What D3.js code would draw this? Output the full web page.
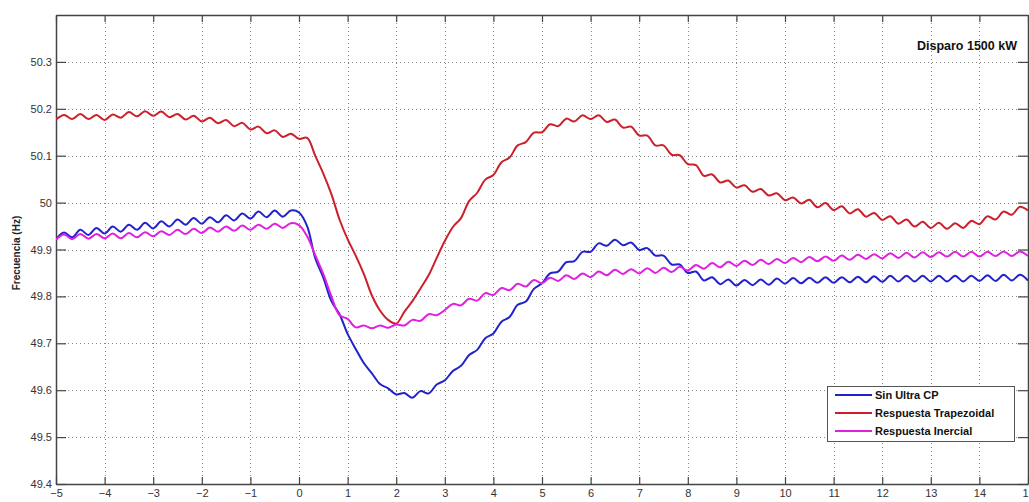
<!DOCTYPE html>
<html>
<head>
<meta charset="utf-8">
<script src="https://cdn.jsdelivr.net/npm/d3@7"></script>
<style>
  body { margin: 0; background: #fff; }
  svg { display: block; }
</style>
</head>
<body>
<svg id="chart" width="1029" height="502"></svg>
<script>
// sample times: -5 .. 15 s, every 1/6 s
const tStart = -5;
const tStep = 1 / 6;

const xTicks = [-5, -4, -3, -2, -1, 0, 1, 2, 3, 4, 5, 6, 7, 8, 9, 10, 11, 12, 13, 14, 15];
const yTicks = [49.4, 49.5, 49.6, 49.7, 49.8, 49.9, 50, 50.1, 50.2, 50.3];
const seriesNames = ["Sin Ultra CP", "Respuesta Trapezoidal", "Respuesta Inercial"];

const sinUltra = [
  49.922, 49.936, 49.926, 49.942, 49.931, 49.946, 49.934, 49.949, 49.938, 49.953,
  49.942, 49.957, 49.945, 49.960, 49.949, 49.964, 49.953, 49.967, 49.955, 49.969,
  49.958, 49.973, 49.962, 49.977, 49.966, 49.981, 49.969, 49.983, 49.970, 49.983,
  49.979, 49.950, 49.882, 49.840, 49.790, 49.762, 49.720, 49.688, 49.658, 49.636,
  49.613, 49.604, 49.591, 49.594, 49.584, 49.598, 49.593, 49.612, 49.621, 49.641,
  49.652, 49.675, 49.686, 49.711, 49.721, 49.746, 49.756, 49.782, 49.789, 49.816,
  49.828, 49.849, 49.853, 49.873, 49.875, 49.895, 49.895, 49.913, 49.908, 49.921,
  49.909, 49.915, 49.899, 49.903, 49.887, 49.887, 49.868, 49.868, 49.850, 49.853,
  49.834, 49.841, 49.826, 49.836, 49.823, 49.835, 49.824, 49.836, 49.825, 49.838,
  49.827, 49.839, 49.828, 49.840, 49.829, 49.841, 49.829, 49.841, 49.830, 49.842,
  49.830, 49.843, 49.831, 49.844, 49.832, 49.844, 49.832, 49.844, 49.832, 49.844,
  49.832, 49.844, 49.832, 49.844, 49.833, 49.845, 49.833, 49.846, 49.834, 49.846,
  49.834
];

const trapezoidal = [
  50.177, 50.187, 50.178, 50.189, 50.178, 50.187, 50.176, 50.188, 50.181, 50.193,
  50.184, 50.195, 50.185, 50.194, 50.182, 50.189, 50.177, 50.185, 50.173, 50.181,
  50.169, 50.176, 50.163, 50.170, 50.156, 50.162, 50.148, 50.154, 50.140, 50.147,
  50.136, 50.138, 50.100, 50.062, 50.018, 49.964, 49.922, 49.887, 49.848, 49.802,
  49.770, 49.750, 49.742, 49.767, 49.790, 49.817, 49.845, 49.882, 49.918, 49.948,
  49.967, 50.003, 50.021, 50.049, 50.059, 50.086, 50.096, 50.122, 50.129, 50.149,
  50.150, 50.167, 50.163, 50.179, 50.173, 50.186, 50.178, 50.186, 50.172, 50.177,
  50.160, 50.162, 50.143, 50.143, 50.122, 50.122, 50.102, 50.101, 50.082, 50.080,
  50.057, 50.060, 50.043, 50.047, 50.032, 50.037, 50.023, 50.029, 50.015, 50.020,
  50.005, 50.011, 49.998, 50.006, 49.990, 49.999, 49.984, 49.992, 49.977, 49.986,
  49.970, 49.978, 49.963, 49.971, 49.955, 49.964, 49.949, 49.959, 49.946, 49.957,
  49.944, 49.956, 49.946, 49.961, 49.954, 49.971, 49.964, 49.981, 49.974, 49.991,
  49.983
];

const inercial = [
  49.921, 49.932, 49.922, 49.933, 49.923, 49.933, 49.924, 49.934, 49.924, 49.935,
  49.926, 49.937, 49.928, 49.939, 49.931, 49.942, 49.933, 49.944, 49.935, 49.947,
  49.938, 49.949, 49.940, 49.951, 49.942, 49.953, 49.944, 49.955, 49.946, 49.956,
  49.952, 49.928, 49.888, 49.848, 49.800, 49.760, 49.752, 49.734, 49.738, 49.732,
  49.738, 49.733, 49.740, 49.738, 49.750, 49.748, 49.762, 49.760, 49.771, 49.784,
  49.781, 49.795, 49.791, 49.807, 49.803, 49.818, 49.813, 49.827, 49.821, 49.835,
  49.828, 49.840, 49.833, 49.845, 49.837, 49.849, 49.841, 49.853, 49.845, 49.857,
  49.848, 49.858, 49.849, 49.860, 49.850, 49.861, 49.852, 49.863, 49.855, 49.867,
  49.859, 49.871, 49.862, 49.874, 49.865, 49.876, 49.867, 49.878, 49.869, 49.880,
  49.871, 49.882, 49.873, 49.884, 49.875, 49.885, 49.876, 49.887, 49.878, 49.889,
  49.880, 49.890, 49.881, 49.892, 49.882, 49.893, 49.883, 49.894, 49.884, 49.894,
  49.885, 49.895, 49.885, 49.895, 49.885, 49.895, 49.886, 49.896, 49.886, 49.896,
  49.886
];

const seriesColors = ["#2222cc", "#cc1f2c", "#e020e0"];

function drawChart() {
  const svg = d3.select("#chart");
  const left = 56, right = 1028, top = 15, bottom = 484;

  const x = d3.scaleLinear().domain([-5, 15]).range([left, right]);
  const y = d3.scaleLinear().domain([49.4, 50.4]).range([bottom, top]);

  svg.append("rect")
    .attr("width", 1029).attr("height", 502).attr("fill", "#fff");

  svg.append("defs").append("clipPath").attr("id", "plotClip")
    .append("rect")
    .attr("x", left).attr("y", top)
    .attr("width", right - left).attr("height", bottom - top);

  // dotted grid
  const grid = svg.append("g").attr("stroke", "#8a8a8a")
    .attr("stroke-width", 1).attr("stroke-dasharray", "1,3");
  grid.selectAll("line.gx")
    .data(xTicks.slice(1, -1))
    .enter().append("line")
    .attr("x1", (d) => Math.round(x(d)) + 0.5).attr("x2", (d) => Math.round(x(d)) + 0.5)
    .attr("y1", top).attr("y2", bottom);
  grid.selectAll("line.gy")
    .data(yTicks.slice(1))
    .enter().append("line")
    .attr("y1", (d) => Math.round(y(d)) + 0.5).attr("y2", (d) => Math.round(y(d)) + 0.5)
    .attr("x1", left).attr("x2", right);

  // axes with inward ticks (matlab style)
  const xAxisB = d3.axisBottom(x).tickValues(xTicks).tickSizeInner(-7).tickSizeOuter(0)
    .tickPadding(5).tickFormat(d3.format("d"));
  const xAxisT = d3.axisTop(x).tickValues(xTicks).tickSizeInner(-7).tickSizeOuter(0)
    .tickFormat("");
  const yAxisL = d3.axisLeft(y).tickValues(yTicks).tickSizeInner(-10).tickSizeOuter(0)
    .tickPadding(4).tickFormat((d) => d3.format("")(+d.toFixed(1)));
  const yAxisR = d3.axisRight(y).tickValues(yTicks).tickSizeInner(-10).tickSizeOuter(0)
    .tickFormat("");

  const axes = [
    svg.append("g").attr("transform", `translate(0,${bottom})`).call(xAxisB),
    svg.append("g").attr("transform", `translate(0,${top})`).call(xAxisT),
    svg.append("g").attr("transform", `translate(${left},0)`).call(yAxisL),
    svg.append("g").attr("transform", `translate(${right},0)`).call(yAxisR),
  ];
  axes.forEach((g) => {
    g.select(".domain").attr("stroke", "#444").attr("stroke-width", 1.5);
    g.selectAll(".tick line").attr("stroke", "#444").attr("stroke-width", 1.2);
    g.selectAll(".tick text")
      .attr("fill", "#333")
      .attr("font-family", "Liberation Sans, Arial, sans-serif")
      .attr("font-size", 11);
  });

  // series lines
  const line = d3.line()
    .curve(d3.curveCatmullRom.alpha(0.5))
    .x((d, i) => x(tStart + i * tStep))
    .y((d) => y(d));

  const plot = svg.append("g").attr("clip-path", "url(#plotClip)");
  [sinUltra, trapezoidal, inercial].forEach((vals, k) => {
    plot.append("path")
      .datum(vals)
      .attr("d", line)
      .attr("fill", "none")
      .attr("stroke", seriesColors[k])
      .attr("stroke-width", 2)
      .attr("stroke-linejoin", "round");
  });

  // y label
  svg.append("text")
    .attr("transform", "translate(20,253) rotate(-90)")
    .attr("text-anchor", "middle")
    .attr("font-family", "Liberation Sans, Arial, sans-serif")
    .attr("font-weight", "bold")
    .attr("font-size", 10)
    .attr("fill", "#222")
    .text("Frecuencia (Hz)");

  // title inside plot
  svg.append("text")
    .attr("x", 1017).attr("y", 50)
    .attr("text-anchor", "end")
    .attr("font-family", "Liberation Sans, Arial, sans-serif")
    .attr("font-weight", "bold")
    .attr("font-size", 12.5)
    .attr("fill", "#111")
    .text("Disparo 1500 kW");

  // legend
  const legend = svg.append("g");
  legend.append("rect")
    .attr("x", 827.5).attr("y", 386.5)
    .attr("width", 187).attr("height", 55)
    .attr("fill", "#fff").attr("stroke", "#555").attr("stroke-width", 1);
  seriesNames.forEach((name, k) => {
    const ly = 395 + k * 18;
    legend.append("line")
      .attr("x1", 835).attr("x2", 872)
      .attr("y1", ly).attr("y2", ly)
      .attr("stroke", seriesColors[k]).attr("stroke-width", 2);
    legend.append("text")
      .attr("x", 875).attr("y", ly + 4)
      .attr("font-family", "Liberation Sans, Arial, sans-serif")
      .attr("font-weight", "bold")
      .attr("font-size", 11)
      .attr("fill", "#111")
      .text(name);
  });
}

drawChart();
</script>
</body>
</html>
